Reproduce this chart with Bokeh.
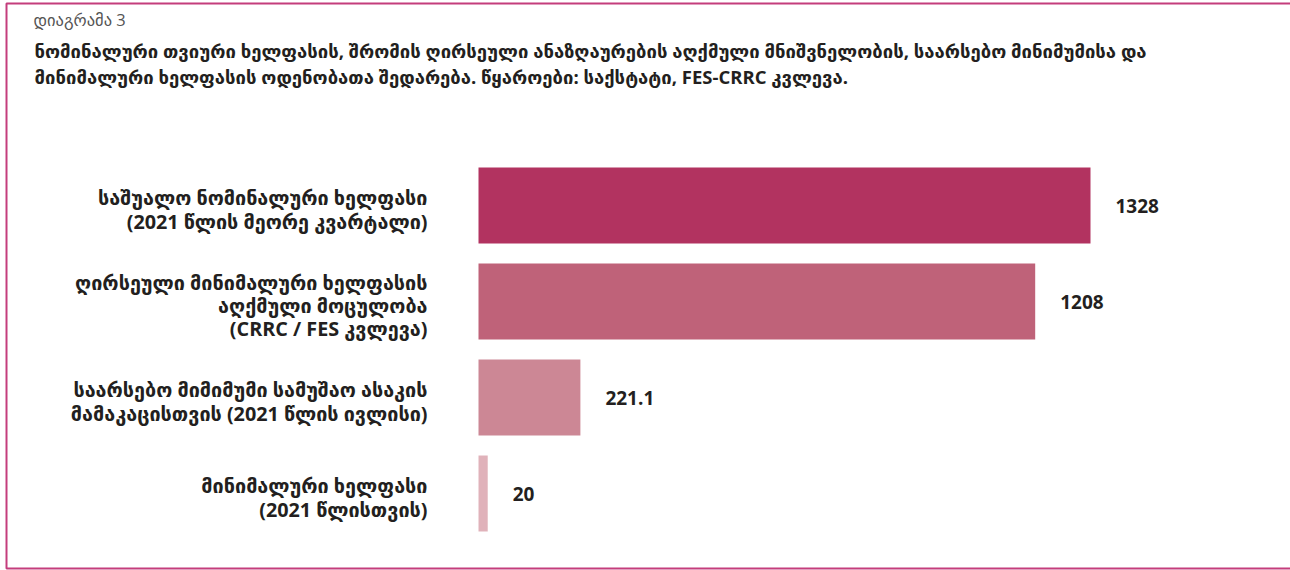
from bokeh.plotting import figure
from bokeh.models import Range1d, BoxAnnotation, ColumnDataSource
from bokeh.core.properties import value
from bokeh.embed import file_html
from bokeh.resources import INLINE

# ---- data ----
categories = [
    "საშუალო ნომინალური ხელფასი\n(2021 წლის მეორე კვარტალი)",
    "ღირსეული მინიმალური ხელფასის\nაღქმული მოცულობა\n(CRRC / FES კვლევა)",
    "საარსებო მიმიმუმი სამუშაო ასაკის\nმამაკაცისთვის (2021 წლის ივლისი)",
    "მინიმალური ხელფასი\n(2021 წლისთვის)",
]
values = [1328, 1208, 221.1, 20]
value_labels = ["1328", "1208", "221.1", "20"]
bar_colors = ["#B23360", "#BF6279", "#CC8795", "#E0B2BA"]

chart_label = "დიაგრამა 3"
title_lines = [
    "ნომინალური თვიური ხელფასის, შრომის ღირსეული ანაზღაურების აღქმული მნიშვნელობის, საარსებო მინიმუმისა და",
    "მინიმალური ხელფასის ოდენობათა შედარება. წყაროები: საქსტატი, FES-CRRC კვლევა.",
]

# ---- layout (pixels) ----
W, H = 1290, 570
BAR_LEFT_PX, BAR_MAX_PX = 478, 1090
FIRST_CENTER_PX, PITCH_PX, BAR_PX = 205, 96, 76

kx = max(values) / (BAR_MAX_PX - BAR_LEFT_PX)
x_range = Range1d(-BAR_LEFT_PX * kx, (W - BAR_LEFT_PX) * kx)
y_range = Range1d((H - FIRST_CENTER_PX) / PITCH_PX, -FIRST_CENTER_PX / PITCH_PX)

def px_x(p):
    return (p - BAR_LEFT_PX) * kx

def px_y(p):
    return (p - FIRST_CENTER_PX) / PITCH_PX

p = figure(width=W, height=H, min_border=0, toolbar_location=None,
           output_backend="svg", x_range=x_range, y_range=y_range,
           x_axis_location=None, y_axis_location=None)
p.grid.visible = False
p.outline_line_color = None
p.background_fill_color = "white"
p.border_fill_color = "white"

idx = list(range(len(categories)))
src = ColumnDataSource(dict(y=idx, v=values, lab=value_labels, cat=categories,
                            zero=[0] * len(values), color=bar_colors))

p.hbar(y="y", left="zero", right="v", height=BAR_PX / PITCH_PX,
       fill_color="color", line_color=None, source=src)

FONT = value("Open Sans, DejaVu Sans")
DARK = "#231F20"

p.text(x="v", y="y", text="lab", source=src, x_offset=25,
       text_font=value("Open Sans"), text_font_style="bold", text_font_size="19px",
       text_color=DARK, text_baseline="middle", text_align="left")

p.text(x="zero", y="y", text="cat", source=src, x_offset=-51, y_offset=4,
       text_font=FONT, text_font_style="bold", text_font_size="19.8px",
       text_color=DARK, text_baseline="middle", text_align="right",
       text_line_height=0.865)

p.text(x=[px_x(33)], y=[px_y(19)], text=[chart_label],
       text_font=FONT, text_font_style="normal", text_font_size="16.5px",
       text_color="#555555", text_baseline="middle", text_align="left")
p.text(x=[px_x(34), px_x(34)], y=[px_y(50), px_y(76)], text=title_lines,
       text_font=FONT, text_font_style="bold", text_font_size="18.5px",
       text_color=DARK, text_baseline="middle", text_align="left")

border = BoxAnnotation(left=px_x(6), right=px_x(1300), top=px_y(3), bottom=px_y(568),
                       fill_alpha=0, line_color="#C43D7C", line_alpha=1, line_width=2)
p.add_layout(border)

open("out.html", "w").write(file_html(p, INLINE))
